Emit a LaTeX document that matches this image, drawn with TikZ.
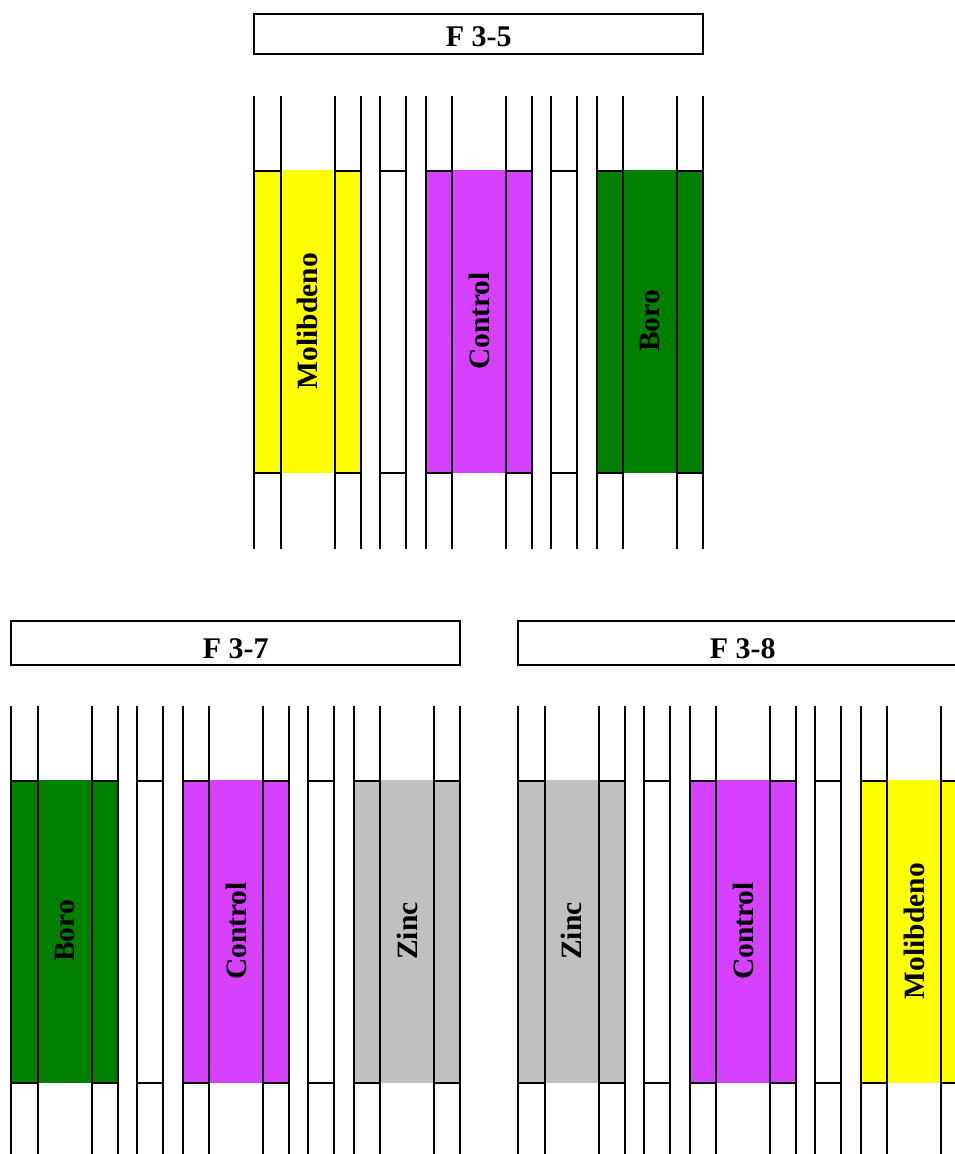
\documentclass[tikz,border=0pt]{standalone}
\usepackage{fontspec}
\setmainfont{Liberation Serif}
\definecolor{molib}{RGB}{255,255,0}
\definecolor{ctrl}{RGB}{214,65,255}
\definecolor{boro}{RGB}{0,128,0}
\definecolor{zinc}{RGB}{192,192,192}
\tikzset{
  tubeline/.style={line width=2.3pt, black},
  titlebox/.style={draw, line width=2.3pt, fill=white},
  titletext/.style={font=\fontsize{30}{33}\selectfont\bfseries, anchor=base, inner sep=0pt},
  lbl/.style={font=\fontsize{29.5}{32}\selectfont\bfseries, rotate=90, inner sep=0pt}
}
\newcommand\tubeset[9]{%
  \begin{scope}[shift={(#1,#2)}]
    \fill[#3] (0,74) rectangle (106.5,377);
    \fill[#5] (172,74) rectangle (278,377);
    \fill[#7] (343,74) rectangle (449,377);
    \foreach \a/\b in {0/26.5,80.5/106.5,126/152,172/198,252/278,297/323,343/369,423/449}{
      \draw[tubeline] (\a,0) -- (\a,453);
      \draw[tubeline] (\b,0) -- (\b,453);
      \draw[tubeline] (\a,75) -- (\b,75);
      \draw[tubeline] (\a,377) -- (\b,377);
    }
    \node[lbl] (#9a) at (53.5,225) {#4};
    \node[lbl] (#9b) at (225,225) {#6};
    \node[lbl] (#9c) at (396,225) {#8};
  \end{scope}}
\begin{document}
\begin{tikzpicture}[x=1pt,y=-1pt]
\useasboundingbox (0,0) rectangle (955,1154);
\clip (0,0) rectangle (955,1154);
% F 3-5
\draw[titlebox] (254.3,14) rectangle (703.3,54);
\node[titletext] (t35) at (478.8,46.7) {F 3-5};
\tubeset{254.3}{96}{molib}{Molibdeno}{ctrl}{Control}{boro}{Boro}{p35}
% F 3-7
\draw[titlebox] (11.3,620.7) rectangle (460.3,664.7);
\node[titletext] (t37) at (235.8,658.3) {F 3-7};
\tubeset{11.3}{706}{boro}{Boro}{ctrl}{Control}{zinc}{Zinc}{p37}
% F 3-8
\draw[titlebox] (518.3,620.7) rectangle (967.3,664.7);
\node[titletext] (t38) at (742.8,658.3) {F 3-8};
\tubeset{518.3}{706}{zinc}{Zinc}{ctrl}{Control}{molib}{Molibdeno}{p38}
\end{tikzpicture}
\end{document}
